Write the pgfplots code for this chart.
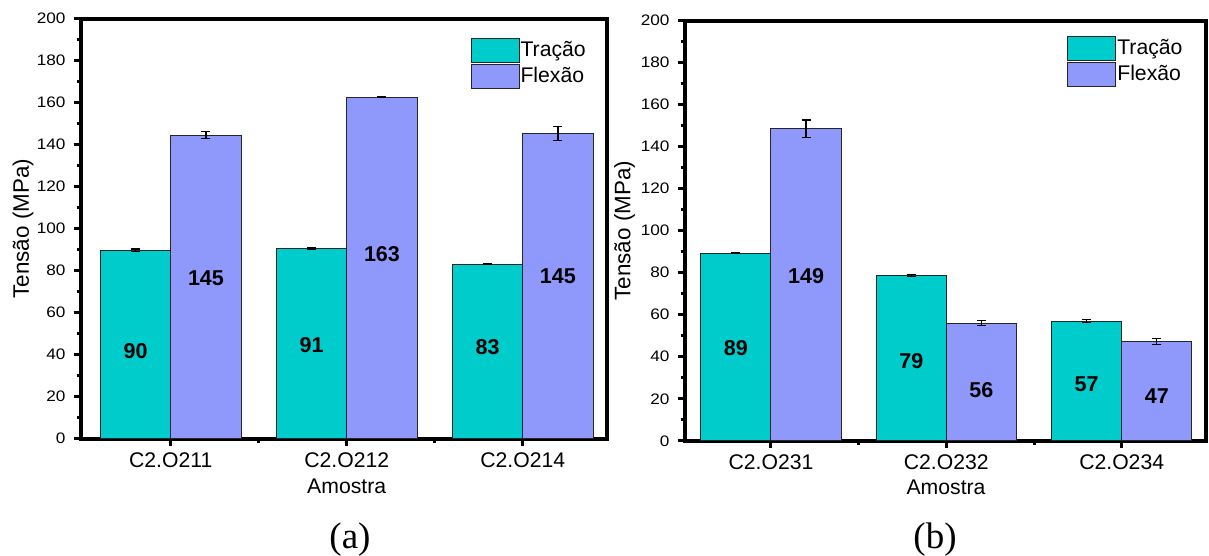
\documentclass[border=0pt]{standalone}
\usepackage{pgfplots}
\pgfplotsset{compat=1.18}
\usepackage{pgfplotstable}
\usepackage{fontspec}
\setmainfont{Liberation Sans}
\newfontfamily\capfont{Liberation Serif}
\definecolor{trac}{RGB}{0,204,204}
\definecolor{flex}{RGB}{143,153,251}

\pgfplotstableread{
x t te f fe
1 89.8 0.5 144.5 1.6
2 90.6 0.3 162.7 0.3
3 83.0 0.2 145.3 3.5
}\dataA
\pgfplotstableread{
x t te f fe
1 89.3 0.3 148.5 4.2
2 78.8 0.5 56.0 1.2
3 57.0 0.8 47.3 1.3
}\dataB

\tikzset{vlab/.style={font=\bfseries\fontsize{10.75}{12}\selectfont}}

\pgfplotsset{
  panel/.style={
    scale only axis,
    ymin=0, ymax=200,
    ytick={0,20,...,200},
    minor y tick num=1,
    xtick={1,2,3},
    minor xtick={1.5,2.5},
    tick pos=left,
    tick align=outside,
    axis line style={line width=2pt},
    major tick style={line width=1.5pt, black},
    minor tick style={line width=1.5pt, black},
    major tick length=3.5pt,
    minor tick length=2pt,
    /pgf/number format/assume math mode=true,
    yticklabel style={font=\fontsize{7.6}{9}\selectfont, xscale=1.13},
    xticklabel style={font=\fontsize{10.6}{12}\selectfont},
    xlabel style={font=\fontsize{10.6}{12}\selectfont},
    ylabel style={font=\fontsize{11.2}{13}\selectfont},
    ybar, bar width=0.4,
    legend image code/.code={\draw[#1] (0pt,-6pt) rectangle (24pt,6pt);},
    legend style={draw=none, fill=none, inner sep=0pt, row sep=0.5pt, anchor=north west,
      font=\fontsize{10.6}{12}\selectfont, nodes={inner sep=0.5pt}},
    legend cell align=left,
    /tikz/every even column/.append style={column sep=2.5pt},
  },
  tbar/.style={fill=trac, draw=black!85, line width=0.5pt, bar shift=-0.2,
    error bars/.cd, y dir=both, y explicit,
    error bar style={line width=0.6pt, black},
    error mark options={rotate=90, mark size=2.25pt, line width=0.6pt, black}},
  fbar/.style={fill=flex, draw=black!85, line width=0.5pt, bar shift=0.2,
    error bars/.cd, y dir=both, y explicit,
    error bar style={line width=0.6pt, black},
    error mark options={rotate=90, mark size=2.25pt, line width=0.6pt, black}},
}

\begin{document}
\begin{tikzpicture}
\useasboundingbox (0,0) rectangle (604.5pt,278pt);
\begin{axis}[panel, at={(40.25pt,58.7pt)}, anchor=south west,
  width=263.25pt, height=209.95pt, xmin=0.487, xmax=3.479,
  xticklabels={C2.O211,C2.O212,C2.O214},
  xlabel={Amostra}, ylabel={Tensão (MPa)},
  xlabel style={at={(axis description cs:0.5056,-0.114)}, anchor=center},
  ylabel style={at={(axis description cs:-0.109,0.5)}, anchor=center},
  legend style={at={(0.740,0.956)}}]
\addplot[tbar] table[x=x, y=t, y error=te] {\dataA};
\addplot[fbar] table[x=x, y=f, y error=fe] {\dataA};
\legend{Tração, Flexão}
\node[vlab] at (axis cs:0.8,41.7) {90};
\node[vlab] at (axis cs:1.2,76.6) {145};
\node[vlab] at (axis cs:1.8,44.7) {91};
\node[vlab] at (axis cs:2.2,88.0) {163};
\node[vlab] at (axis cs:2.8,43.4) {83};
\node[vlab] at (axis cs:3.2,77.5) {145};
\end{axis}
\begin{axis}[panel, at={(342.25pt,57.6pt)}, anchor=south west,
  width=260.5pt, height=210.1pt, xmin=0.507, xmax=3.478,
  xticklabels={C2.O231,C2.O232,C2.O234},
  xlabel={Amostra}, ylabel={Tensão (MPa)},
  xlabel style={at={(axis description cs:0.502,-0.111)}, anchor=center},
  ylabel style={at={(axis description cs:-0.115,0.5)}, anchor=center},
  legend style={at={(0.734,0.9645)}}]
\addplot[tbar] table[x=x, y=t, y error=te] {\dataB};
\addplot[fbar] table[x=x, y=f, y error=fe] {\dataB};
\legend{Tração, Flexão}
\node[vlab] at (axis cs:0.8,44.2) {89};
\node[vlab] at (axis cs:1.2,78.3) {149};
\node[vlab] at (axis cs:1.8,38.0) {79};
\node[vlab] at (axis cs:2.2,24.0) {56};
\node[vlab] at (axis cs:2.8,26.8) {57};
\node[vlab] at (axis cs:3.2,21.1) {47};
\end{axis}
\node[font=\capfont\fontsize{18.5}{21}\selectfont] at (175pt,8.15pt) {(a)};
\node[font=\capfont\fontsize{18.5}{21}\selectfont] at (467.5pt,8.15pt) {(b)};
\end{tikzpicture}
\end{document}
